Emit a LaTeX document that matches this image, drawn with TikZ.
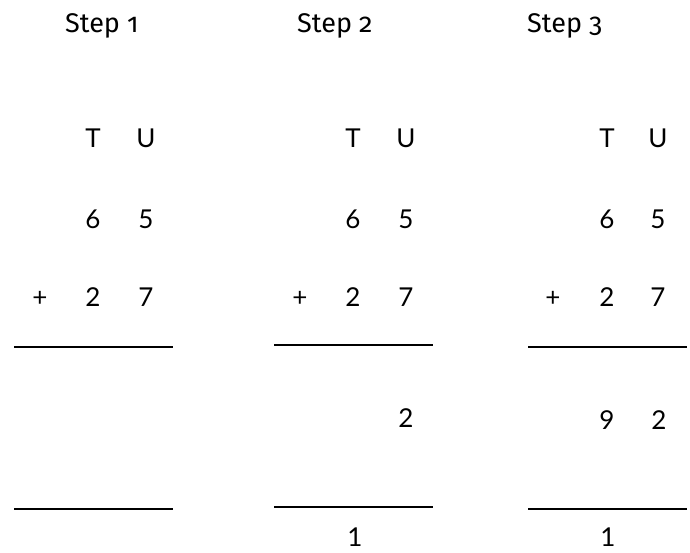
\documentclass[tikz,border=0pt]{standalone}
\usepackage{fontspec}
\newfontfamily\stepfont[Numbers=OldStyle]{Fira Sans}
\newfontfamily\digitfont{Lato}
\begin{document}
\begin{tikzpicture}[x=1pt,y=-1pt,
  steplabel/.style={font=\stepfont\fontsize{27}{30}\selectfont,anchor=base west,inner sep=0pt},
  digit/.style={font=\digitfont\fontsize{26}{28}\selectfont,anchor=base,inner sep=0pt},
  rule/.style={line width=2pt}]
\useasboundingbox (0,0) rectangle (690,552);
% step labels
\node[steplabel] (s1) at (65,32) {Step 1};
\node[steplabel] (s2) at (297,32) {Step 2};
\node[steplabel] (s3) at (527,32) {Step 3};
% column 1
\node[digit] (t1) at (93,147) {T};
\node[digit] (u1) at (146,147) {U};
\node[digit] (a1) at (93,228) {6};
\node[digit] (b1) at (146,228) {5};
\node[digit] (p1) at (40,306) {+};
\node[digit] (c1) at (93,306) {2};
\node[digit] (d1) at (146,306) {7};
\draw[rule] (14,347) -- (173,347);
\draw[rule] (14,509) -- (173,509);
% column 2
\node[digit] (t2) at (353,147) {T};
\node[digit] (u2) at (406,147) {U};
\node[digit] (a2) at (353,228) {6};
\node[digit] (b2) at (406,228) {5};
\node[digit] (p2) at (300,306) {+};
\node[digit] (c2) at (353,306) {2};
\node[digit] (d2) at (406,306) {7};
\draw[rule] (274,345) -- (433,345);
\node[digit] (r2) at (406,427) {2};
\draw[rule] (274,507) -- (433,507);
\node[digit] (k2) at (355,546) {1};
% column 3
\node[digit] (t3) at (607,147) {T};
\node[digit] (u3) at (658,147) {U};
\node[digit] (a3) at (607,228) {6};
\node[digit] (b3) at (658,228) {5};
\node[digit] (p3) at (553,306) {+};
\node[digit] (c3) at (607,306) {2};
\node[digit] (d3) at (658,306) {7};
\draw[rule] (528,347) -- (687,347);
\node[digit] (q3) at (607,429) {9};
\node[digit] (r3) at (659,429) {2};
\draw[rule] (528,509) -- (687,509);
\node[digit] (k3) at (608,546) {1};
\end{tikzpicture}
\end{document}
